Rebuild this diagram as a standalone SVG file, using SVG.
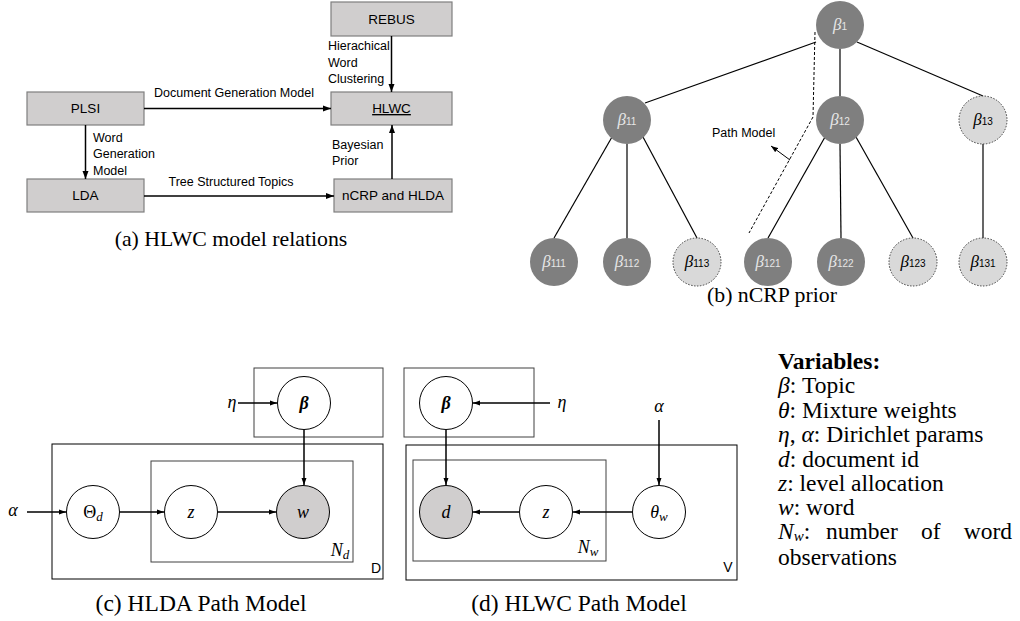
<svg xmlns="http://www.w3.org/2000/svg" width="1020" height="621" viewBox="0 0 1020 621">
<style>
.box{fill:#d0cece;stroke:#7f7f7f;stroke-width:1.2}
.bt{font-family:"Liberation Sans",Arial,sans-serif;font-size:13.5px;fill:#000;text-anchor:middle}
.lab{font-family:"Liberation Sans",Arial,sans-serif;font-size:12.5px;fill:#000}
.cap{font-family:"Liberation Serif","Times New Roman",serif;font-size:21.8px;fill:#000;text-anchor:middle}
.cap2{font-family:"Liberation Serif","Times New Roman",serif;font-size:23.5px;fill:#000;text-anchor:middle}
.con{stroke:#000;stroke-width:1.5;fill:none}
.edge{stroke:#000;stroke-width:1.2;fill:none}
.dk{fill:#7f7f7f}
.lt{fill:#d9d9d9;stroke:#404040;stroke-width:1;stroke-dasharray:1.5,1.5}
.tl{font-family:"Liberation Serif","Times New Roman",serif;font-style:italic;font-size:17px;text-anchor:middle}
.sub{font-family:"Liberation Sans",Arial,sans-serif;font-style:normal;font-size:10px}
.pbox{fill:none;stroke:#000;stroke-width:1}
.pbox2{fill:none;stroke:#404040;stroke-width:1}
.node{fill:#fff;stroke:#000;stroke-width:1}
.obs{fill:#d0cece;stroke:#000;stroke-width:1}
.m{font-family:"Liberation Serif","Times New Roman",serif;font-style:italic;font-size:18px;fill:#000;text-anchor:middle}
.ms{font-size:13px}
.sans{font-family:"Liberation Sans",Arial,sans-serif;font-size:14px;fill:#000;text-anchor:middle}
.var{font-family:"Liberation Serif","Times New Roman",serif;font-size:23.5px;fill:#000}
.vi{font-style:italic}
</style>
<defs>
<marker id="ah" markerUnits="userSpaceOnUse" markerWidth="8" markerHeight="8" viewBox="0 0 8 8" refX="8" refY="4" orient="auto">
<path d="M0,1 L8,4 L0,7 Z" fill="#000"/>
</marker>
<marker id="ahs" markerUnits="userSpaceOnUse" markerWidth="7" markerHeight="6" viewBox="0 0 7 6" refX="7" refY="3" orient="auto">
<path d="M0,0.5 L7,3 L0,5.5 Z" fill="#000"/>
</marker>
</defs>

<!-- (a) HLWC model relations -->
<g id="rebus"><rect class="box" x="331" y="2" width="121" height="34"/><text class="bt" x="391.5" y="24">REBUS</text></g>
<g id="hlwc"><rect class="box" x="331" y="92" width="121" height="33"/><text class="bt" x="391.5" y="113" text-decoration="underline">HLWC</text></g>
<g id="plsi"><rect class="box" x="27" y="92" width="117" height="33"/><text class="bt" x="85.5" y="113">PLSI</text></g>
<g id="lda"><rect class="box" x="27" y="179" width="117" height="33"/><text class="bt" x="85.5" y="200">LDA</text></g>
<g id="ncrp"><rect class="box" x="334" y="179" width="118" height="33"/><text class="bt" x="393" y="200">nCRP and HLDA</text></g>

<g id="connectors-a">
<line class="con" x1="144" y1="108.5" x2="331" y2="108.5" marker-end="url(#ah)"/>
<line class="con" x1="85.5" y1="125" x2="85.5" y2="179" marker-end="url(#ah)"/>
<line class="con" x1="144" y1="196" x2="334" y2="196" marker-end="url(#ah)"/>
<line class="con" x1="391.5" y1="36" x2="391.5" y2="92" marker-end="url(#ah)"/>
<line class="con" x1="392" y1="179" x2="392" y2="125" marker-end="url(#ah)"/>
</g>
<g id="labels-a">
<text class="lab" x="234" y="97" text-anchor="middle">Document Generation Model</text>
<text class="lab" x="93" y="142">Word</text>
<text class="lab" x="93" y="158">Generation</text>
<text class="lab" x="93" y="175">Model</text>
<text class="lab" x="328" y="50">Hierachical</text>
<text class="lab" x="328" y="67">Word</text>
<text class="lab" x="328" y="83">Clustering</text>
<text class="lab" x="332" y="149">Bayesian</text>
<text class="lab" x="332" y="165">Prior</text>
<text class="lab" x="231" y="186" text-anchor="middle">Tree Structured Topics</text>
</g>
<text class="cap" x="231" y="246">(a) HLWC model relations</text>

<!-- (b) nCRP prior -->
<g id="connectors-b">
<line class="edge" x1="816" y1="42" x2="645" y2="103"/>
<line class="edge" x1="840" y1="49" x2="840" y2="96"/>
<line class="edge" x1="857" y1="42" x2="983" y2="96"/>
<line class="edge" x1="612" y1="137" x2="554" y2="238"/>
<line class="edge" x1="627" y1="144" x2="627" y2="238"/>
<line class="edge" x1="643" y1="137" x2="697" y2="238"/>
<line class="edge" x1="825" y1="137" x2="768" y2="238"/>
<line class="edge" x1="840" y1="144" x2="841" y2="238"/>
<line class="edge" x1="856" y1="137" x2="913" y2="238"/>
<line class="edge" x1="983" y1="144" x2="983" y2="238"/>
<polyline points="815,32 813,117 749,233" fill="none" stroke="#000" stroke-width="1" stroke-dasharray="3,2"/>
<line x1="790" y1="160" x2="771" y2="146" stroke="#000" stroke-width="1" marker-end="url(#ahs)"/>
</g>
<g id="b1"><circle class="dk" cx="840" cy="25" r="24"/><text class="tl" x="840" y="30" fill="#e6e6e6">β<tspan class="sub">1</tspan></text></g>
<g id="b11"><circle class="dk" cx="627" cy="120" r="24"/><text class="tl" x="627" y="125" fill="#e6e6e6">β<tspan class="sub">11</tspan></text></g>
<g id="b12"><circle class="dk" cx="840" cy="120" r="24"/><text class="tl" x="840" y="125" fill="#e6e6e6">β<tspan class="sub">12</tspan></text></g>
<g id="b13"><circle class="lt" cx="983" cy="120" r="24"/><text class="tl" x="983" y="125" fill="#000">β<tspan class="sub">13</tspan></text></g>
<g id="b111"><circle class="dk" cx="554" cy="262" r="24"/><text class="tl" x="554" y="267" fill="#e6e6e6">β<tspan class="sub">111</tspan></text></g>
<g id="b112"><circle class="dk" cx="627" cy="262" r="24"/><text class="tl" x="627" y="267" fill="#e6e6e6">β<tspan class="sub">112</tspan></text></g>
<g id="b113"><circle class="lt" cx="697" cy="262" r="24"/><text class="tl" x="697" y="267" fill="#000">β<tspan class="sub">113</tspan></text></g>
<g id="b121"><circle class="dk" cx="768" cy="262" r="24"/><text class="tl" x="768" y="267" fill="#e6e6e6">β<tspan class="sub">121</tspan></text></g>
<g id="b122"><circle class="dk" cx="841" cy="262" r="24"/><text class="tl" x="841" y="267" fill="#e6e6e6">β<tspan class="sub">122</tspan></text></g>
<g id="b123"><circle class="lt" cx="913" cy="262" r="24"/><text class="tl" x="913" y="267" fill="#000">β<tspan class="sub">123</tspan></text></g>
<g id="b131"><circle class="lt" cx="983" cy="262" r="24"/><text class="tl" x="983" y="267" fill="#000">β<tspan class="sub">131</tspan></text></g>
<text class="lab" x="712" y="137" font-size="13">Path Model</text>
<text class="cap" x="772" y="302">(b) nCRP prior</text>

<!-- (c) HLDA Path Model -->
<g id="plates-c">
<rect class="pbox2" x="254" y="368" width="129" height="69"/>
<rect class="pbox" x="52" y="444" width="331" height="135"/>
<rect class="pbox2" x="151" y="461" width="202" height="101"/>
</g>
<g id="connectors-c">
<line class="con" x1="238" y1="403" x2="277" y2="403" marker-end="url(#ahs)"/>
<line class="con" x1="27" y1="512" x2="66" y2="512" marker-end="url(#ahs)"/>
<line class="con" x1="120" y1="512" x2="164" y2="512" marker-end="url(#ahs)"/>
<line class="con" x1="218" y1="512" x2="276" y2="512" marker-end="url(#ahs)"/>
<line class="con" x1="304" y1="430" x2="304" y2="485" marker-end="url(#ahs)"/>
</g>
<g id="c-beta"><circle class="node" cx="304" cy="403" r="26.5"/><text class="m" x="304" y="409" font-weight="bold">β</text></g>
<g id="c-theta"><circle class="node" cx="93" cy="512" r="26.5"/><text class="m" x="93" y="518"><tspan font-style="normal">Θ</tspan><tspan class="ms" dy="3">d</tspan></text></g>
<g id="c-z"><circle class="node" cx="191" cy="512" r="26.5"/><text class="m" x="191" y="518">z</text></g>
<g id="c-w"><circle class="obs" cx="303" cy="512" r="26.5"/><text class="m" x="303" y="518">w</text></g>
<text class="m" x="232" y="408">η</text>
<text class="m" x="13" y="516">α</text>
<text class="m" x="340" y="556">N<tspan class="ms" dy="3">d</tspan></text>
<text class="sans" x="376" y="573">D</text>
<text class="cap2" x="201" y="611">(c) HLDA Path Model</text>

<!-- (d) HLWC Path Model -->
<g id="plates-d">
<rect class="pbox2" x="404" y="368" width="130" height="69"/>
<rect class="pbox" x="406" y="445" width="331" height="135"/>
<rect class="pbox2" x="413" y="460" width="193" height="101"/>
</g>
<g id="connectors-d">
<line class="con" x1="550" y1="403" x2="473" y2="403" marker-end="url(#ahs)"/>
<line class="con" x1="659" y1="420" x2="659" y2="485" marker-end="url(#ahs)"/>
<line class="con" x1="632" y1="512" x2="573" y2="512" marker-end="url(#ahs)"/>
<line class="con" x1="519" y1="512" x2="473" y2="512" marker-end="url(#ahs)"/>
<line class="con" x1="446" y1="430" x2="446" y2="485" marker-end="url(#ahs)"/>
</g>
<g id="d-beta"><circle class="node" cx="446" cy="403" r="26.5"/><text class="m" x="446" y="409" font-weight="bold">β</text></g>
<g id="d-d"><circle class="obs" cx="446" cy="512" r="26.5"/><text class="m" x="446" y="518">d</text></g>
<g id="d-z"><circle class="node" cx="546" cy="512" r="26.5"/><text class="m" x="546" y="518">z</text></g>
<g id="d-theta"><circle class="node" cx="659" cy="512" r="26.5"/><text class="m" x="659" y="518">θ<tspan class="ms" dy="3">w</tspan></text></g>
<text class="m" x="562" y="408">η</text>
<text class="m" x="659" y="412">α</text>
<text class="m" x="588" y="553">N<tspan class="ms" dy="3">w</tspan></text>
<text class="sans" x="728" y="572">V</text>
<text class="cap2" x="579" y="611">(d) HLWC Path Model</text>

<!-- Variables -->
<g id="variables">
<text class="var" x="778" y="369" font-weight="bold">Variables:</text>
<text class="var" x="778" y="393"><tspan class="vi">β</tspan>: Topic</text>
<text class="var" x="778" y="418"><tspan class="vi">θ</tspan>: Mixture weights</text>
<text class="var" x="778" y="442"><tspan class="vi">η</tspan>, <tspan class="vi">α</tspan>: Dirichlet params</text>
<text class="var" x="778" y="467"><tspan class="vi">d</tspan>: document id</text>
<text class="var" x="778" y="491"><tspan class="vi">z</tspan>: level allocation</text>
<text class="var" x="778" y="515"><tspan class="vi">w</tspan>: word</text>
<text class="var" x="778" y="539"><tspan class="vi">N</tspan><tspan class="vi" font-size="15" dy="2">w</tspan><tspan dy="-2">:</tspan></text>
<text class="var" x="826" y="539">number</text>
<text class="var" x="921" y="539">of</text>
<text class="var" x="1012" y="539" text-anchor="end">word</text>
<text class="var" x="778" y="565">observations</text>
</g>
</svg>
